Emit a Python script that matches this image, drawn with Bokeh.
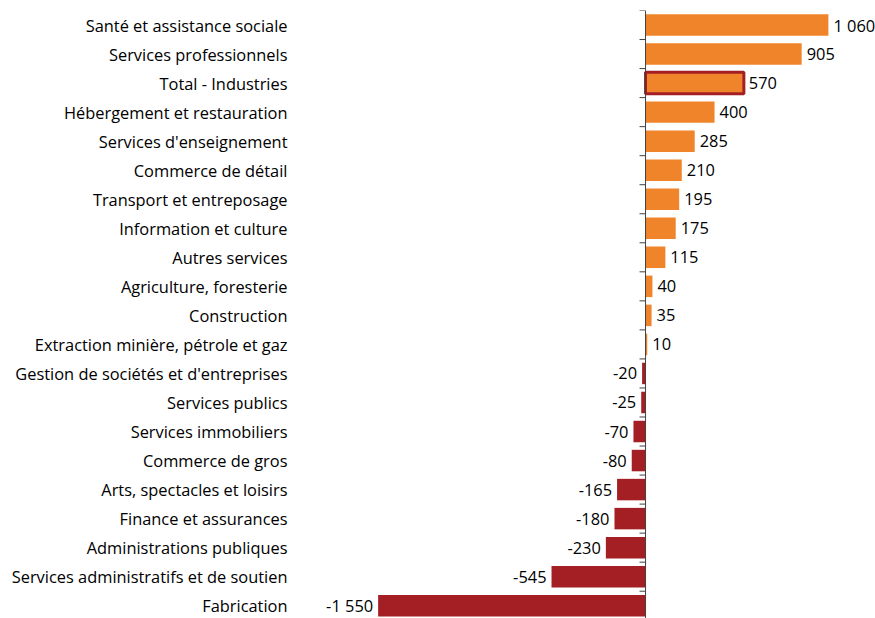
from bokeh.plotting import figure
from bokeh.models import Range1d, FixedTicker, Span, ColumnDataSource
from bokeh.core.properties import value
from bokeh.embed import file_html
from bokeh.resources import INLINE

categories = [
    "Santé et assistance sociale",
    "Services professionnels",
    "Total - Industries",
    "Hébergement et restauration",
    "Services d'enseignement",
    "Commerce de détail",
    "Transport et entreposage",
    "Information et culture",
    "Autres services",
    "Agriculture, foresterie",
    "Construction",
    "Extraction minière, pétrole et gaz",
    "Gestion de sociétés et d'entreprises",
    "Services publics",
    "Services immobiliers",
    "Commerce de gros",
    "Arts, spectacles et loisirs",
    "Finance et assurances",
    "Administrations publiques",
    "Services administratifs et de soutien",
    "Fabrication",
]
values = [1060, 905, 570, 400, 285, 210, 195, 175, 115, 40, 35, 10,
          -20, -25, -70, -80, -165, -180, -230, -545, -1550]
highlight = "Total - Industries"

ORANGE = "#F0842A"
DARKRED = "#A31F24"
FONT = "Open Sans"
FSIZE = "16.4px"

def fmt(v):
    s = f"{abs(v):,}".replace(",", " ")
    return ("-" if v < 0 else "") + s

idx = list(range(len(categories)))
colors = [ORANGE if v >= 0 else DARKRED for v in values]
labels = [fmt(v) for v in values]

src = ColumnDataSource(dict(y=idx, v=values, c=colors, lab=labels))
pos = ColumnDataSource(dict(y=[i for i in idx if values[i] >= 0],
                            v=[v for v in values if v >= 0],
                            lab=[labels[i] for i in idx if values[i] >= 0]))
neg = ColumnDataSource(dict(y=[i for i in idx if values[i] < 0],
                            v=[v for v in values if v < 0],
                            lab=[labels[i] for i in idx if values[i] < 0]))

W, H = 875, 618
LEFT = 300
XMIN, XMAX = -2000, 1333
p = figure(width=W, height=H, output_backend="svg", toolbar_location=None,
           x_range=Range1d(XMIN, XMAX), y_range=Range1d(20.44, -0.5),
           min_border_left=LEFT, min_border_right=0, min_border_top=10,
           min_border_bottom=0)
p.outline_line_color = None
p.xgrid.visible = False
p.ygrid.visible = False
p.xaxis.visible = False

ya = p.yaxis[0]
ya.ticker = FixedTicker(ticks=idx)
ya.major_label_overrides = {i: c for i, c in enumerate(categories)}
ya.axis_line_color = None
ya.major_tick_line_color = None
ya.minor_tick_line_color = None
ya.major_tick_out = 0
ya.major_tick_in = 0
ya.major_label_standoff = 13
ya.major_label_text_font = FONT
ya.major_label_text_font_size = FSIZE
ya.major_label_text_color = "#000000"

p.hbar(y="y", left=0, right="v", height=0.74, fill_color="c",
       line_color=None, source=src)

hi = categories.index(highlight)
p.hbar(y=[hi], left=0, right=[values[hi]], height=0.74, fill_color=ORANGE,
       line_color=DARKRED, line_width=3)

# zero axis line with small ticks at category boundaries
p.add_layout(Span(location=0, dimension="height", line_color="#404040",
                  line_width=1))
px_per_unit = (W - LEFT) / (XMAX - XMIN)
tick_len = 6 / px_per_unit
bounds = [i - 0.5 for i in range(len(categories) + 1)]
p.segment(x0=[-tick_len] * len(bounds), x1=[0] * len(bounds), y0=bounds,
          y1=bounds, line_color="#404040", line_width=1)

p.text(x="v", y="y", text="lab", source=pos, x_offset=5, text_align="left",
       text_baseline="middle", text_font=value(FONT), text_font_size=FSIZE,
       text_color="#000000")
p.text(x="v", y="y", text="lab", source=neg, x_offset=-5, text_align="right",
       text_baseline="middle", text_font=value(FONT), text_font_size=FSIZE,
       text_color="#000000")

open("out.html", "w").write(file_html(p, INLINE))
